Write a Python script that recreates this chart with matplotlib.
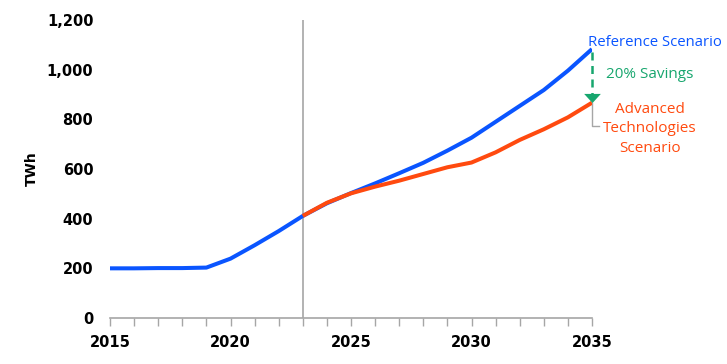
import matplotlib
matplotlib.use("Agg")
import matplotlib.pyplot as plt
from matplotlib.ticker import MultipleLocator, FuncFormatter

years = list(range(2015, 2036))
reference = [200, 200, 201, 201, 203, 239, 293, 350, 411, 462, 503, 542, 583,
             625, 674, 726, 790, 854, 918, 996, 1083]
adv_years = list(range(2023, 2036))
advanced = [411, 464, 502, 529, 553, 580, 607, 626, 667, 717, 760, 808, 867]

yticks = [0, 200, 400, 600, 800, 1000, 1200]
xticks = [2015, 2020, 2025, 2030, 2035]

blue = "#0A55FF"
orange = "#FF4A0F"
green = "#17A66E"
grey = "#A6A6A6"

fig = plt.figure(figsize=(7.27, 3.64), dpi=100)
ax = fig.add_axes([110/727, (364-318)/364, (592-110)/727, (318-20)/364])

ax.plot(years, reference, color=blue, lw=2.9, solid_capstyle="butt", zorder=3)
ax.plot(adv_years, advanced, color=orange, lw=2.9, solid_capstyle="butt", zorder=4)
ax.axvline(2023, color=grey, lw=1.2, zorder=2)

ax.set_xlim(2015, 2035)
ax.set_ylim(0, 1200)
ax.set_xticks(xticks)
ax.xaxis.set_minor_locator(MultipleLocator(1))
ax.set_yticks(yticks)
ax.yaxis.set_major_formatter(FuncFormatter(lambda v, p: f"{int(v):,}"))

for s in ["top", "right", "left"]:
    ax.spines[s].set_visible(False)
ax.spines["bottom"].set_color(grey)
ax.spines["bottom"].set_linewidth(1.2)
ax.tick_params(axis="x", which="both", direction="out", length=6, width=1, color=grey,
               pad=6, labelsize=10.5)
ax.tick_params(axis="y", length=0, pad=12, labelsize=10.5)
for lab in ax.get_xticklabels() + ax.get_yticklabels():
    lab.set_fontweight("bold")
ax.set_ylabel("TWh", fontsize=10, fontweight="bold", labelpad=6)

# Savings arrow: dashed shaft + triangle head
ax.plot([2035, 2035], [reference[-1] - 10, advanced[-1] + 35], color=green, lw=1.8,
        linestyle=(0, (3.2, 2.2)), clip_on=False, zorder=5)
tri = [(-1.0, 0.55), (1.0, 0.55), (0, -0.55), (-1.0, 0.55)]
ax.plot([2035], [advanced[-1] + 20], marker=tri, markersize=12, color=green,
        markeredgewidth=0, clip_on=False, zorder=6)
ax.text(2035.6, 980, "20% Savings", color=green, fontsize=11, family="Open Sans",
        ha="left", va="center", clip_on=False)
ax.text(2037.6, 1110, "Reference Scenario", color=blue, fontsize=10.7, family="Open Sans",
        ha="center", va="center", clip_on=False)
ax.text(2037.4, 762, "Advanced\nTechnologies\nScenario", color=orange, fontsize=11,
        family="Open Sans", ha="center", va="center", linespacing=1.42, clip_on=False)
# leader line
ax.plot([2035, 2035, 2035.3], [advanced[-1], 772, 772], color=grey, lw=1,
        clip_on=False, zorder=3)

fig.savefig("out.png", dpi=100)
